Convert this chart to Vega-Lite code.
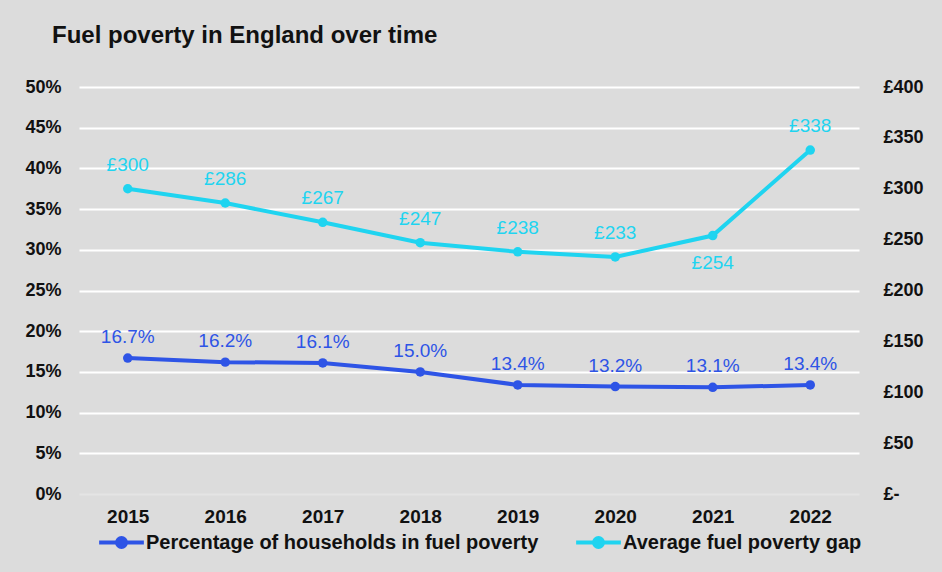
{
  "$schema": "https://vega.github.io/schema/vega-lite/v6.json",
  "width": 780,
  "height": 407,
  "autosize": "none",
  "padding": {"left": 79, "top": 87, "right": 83, "bottom": 78},
  "background": "#dcdcdc",
  "title": {
    "text": "Fuel poverty in England over time",
    "anchor": "start",
    "frame": "group",
    "dx": -27,
    "offset": 30,
    "fontSize": 24,
    "fontWeight": "bold",
    "color": "#111111",
    "font": "Liberation Sans"
  },
  "config": {
    "font": "Liberation Sans",
    "view": {"stroke": null},
    "axis": {
      "labelFont": "Liberation Sans",
      "labelFontSize": 18,
      "labelFontWeight": "bold",
      "labelColor": "#111111",
      "domain": false,
      "ticks": false,
      "title": null
    },
    "legend": {
      "title": null,
      "orient": "none",
      "legendX": 18,
      "legendY": 431,
      "direction": "horizontal",
      "labelFontSize": 20,
      "labelFontWeight": "bold",
      "labelColor": "#111111",
      "labelFont": "Liberation Sans",
      "labelLimit": 0,
      "symbolType": "M-1,0H1M-0.2,0A0.2,0.2,0,1,1,0.2,0A0.2,0.2,0,1,1,-0.2,0Z",
      "symbolSize": 2000,
      "symbolStrokeWidth": 4,
      "labelOffset": 0,
      "columnPadding": 29
    }
  },
  "data": {
    "values": [
      {"year": "2015", "series": "Percentage of households in fuel poverty", "value": 0.167},
      {"year": "2016", "series": "Percentage of households in fuel poverty", "value": 0.162},
      {"year": "2017", "series": "Percentage of households in fuel poverty", "value": 0.161},
      {"year": "2018", "series": "Percentage of households in fuel poverty", "value": 0.150},
      {"year": "2019", "series": "Percentage of households in fuel poverty", "value": 0.134},
      {"year": "2020", "series": "Percentage of households in fuel poverty", "value": 0.132},
      {"year": "2021", "series": "Percentage of households in fuel poverty", "value": 0.131},
      {"year": "2022", "series": "Percentage of households in fuel poverty", "value": 0.134},
      {"year": "2015", "series": "Average fuel poverty gap", "value": 300},
      {"year": "2016", "series": "Average fuel poverty gap", "value": 286},
      {"year": "2017", "series": "Average fuel poverty gap", "value": 267},
      {"year": "2018", "series": "Average fuel poverty gap", "value": 247},
      {"year": "2019", "series": "Average fuel poverty gap", "value": 238},
      {"year": "2020", "series": "Average fuel poverty gap", "value": 233},
      {"year": "2021", "series": "Average fuel poverty gap", "value": 254},
      {"year": "2022", "series": "Average fuel poverty gap", "value": 338}
    ]
  },
  "encoding": {
    "x": {
      "field": "year",
      "type": "ordinal",
      "scale": {"type": "point", "padding": 0.5},
      "axis": {"labelAngle": 0, "labelPadding": 13, "grid": false, "labelFontSize": 19}
    },
    "color": {
      "field": "series",
      "type": "nominal",
      "scale": {
        "domain": ["Percentage of households in fuel poverty", "Average fuel poverty gap"],
        "range": ["#2e54e6", "#1fd4f0"]
      }
    }
  },
  "layer": [
    {
      "transform": [{"filter": "datum.series === 'Percentage of households in fuel poverty'"}],
      "encoding": {
        "y": {
          "field": "value",
          "type": "quantitative",
          "scale": {"domain": [0, 0.5]},
          "axis": {
            "orient": "left",
            "values": [0, 0.05, 0.1, 0.15, 0.2, 0.25, 0.3, 0.35, 0.4, 0.45, 0.5],
            "format": ".0%",
            "labelPadding": 18,
            "grid": true,
            "gridColor": {"condition": {"test": "datum.value === 0", "value": "#e4e4e4"}, "value": "#ffffff"},
            "gridWidth": 2
          }
        }
      },
      "layer": [
        {"mark": {"type": "line", "strokeWidth": 4}},
        {"mark": {"type": "point", "filled": true, "size": 90, "opacity": 1}},
        {
          "mark": {"type": "text", "dy": -21, "fontSize": 19, "font": "Liberation Sans"},
          "encoding": {"text": {"field": "value", "type": "quantitative", "format": ".1%"}}
        }
      ]
    },
    {
      "transform": [{"filter": "datum.series === 'Average fuel poverty gap'"}],
      "encoding": {
        "y": {
          "field": "value",
          "type": "quantitative",
          "scale": {"domain": [0, 400]},
          "axis": {
            "orient": "right",
            "values": [0, 50, 100, 150, 200, 250, 300, 350, 400],
            "labelExpr": "datum.value === 0 ? '£-' : '£' + datum.value",
            "labelPadding": 24,
            "grid": false
          }
        }
      },
      "layer": [
        {"mark": {"type": "line", "strokeWidth": 4}},
        {"mark": {"type": "point", "filled": true, "size": 90, "opacity": 1}},
        {
          "transform": [{"filter": "datum.year !== '2021'"}],
          "mark": {"type": "text", "dy": -24, "fontSize": 19, "font": "Liberation Sans", "text": {"expr": "'£' + datum.value"}}
        },
        {
          "transform": [{"filter": "datum.year === '2021'"}],
          "mark": {"type": "text", "dy": 27, "fontSize": 19, "font": "Liberation Sans", "text": {"expr": "'£' + datum.value"}}
        }
      ]
    }
  ],
  "resolve": {"scale": {"y": "independent"}}
}
